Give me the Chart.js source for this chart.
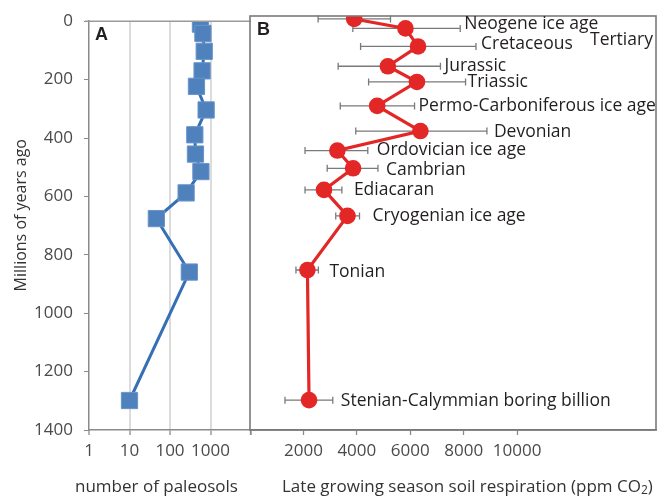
<!DOCTYPE html>
<html lang="en">
<head>
    <meta charset="UTF-8">
    <title>Paleosols and soil respiration</title>
    <script src="https://cdn.jsdelivr.net/npm/chart.js"></script>
    <style>
        body { margin: 0; background: #fff; }
        #wrap { position: relative; width: 666px; height: 502px; }
        canvas { position: absolute; top: 0; }
        #chartA { left: 0; }
        #chartB { left: 240px; }
    </style>
</head>
<body>
    <div id="wrap">
        <canvas id="chartA" width="257" height="502"></canvas>
        <canvas id="chartB" width="426" height="502"></canvas>
    </div>

    <script>
        // ages in millions of years, shared by both panels
        const ages = [10, 42, 103, 170, 223, 304, 389, 455, 515, 588, 676, 859, 1299];

        // panel A: number of paleosols (log axis)
        const paleosols = [565, 650, 700, 620, 450, 780, 410, 425, 580, 250, 46, 300, 10];
        const ticksA = [1, 10, 100, 1000, 10000];

        // panel B: late growing season soil respiration, ppm CO2
        const respiration = [3900, 5820, 6290, 5160, 6250, 4760, 6380, 3270, 3860, 2770, 3650, 2150, 2210];
        const respLow = [2550, 3850, 4140, 3300, 4440, 3380, 3960, 2060, 2890, 2060, 3210, 1720, 1310];
        const respHigh = [5260, 7870, 8460, 7130, 8070, 6160, 8870, 4410, 4790, 3440, 4100, 2560, 3100];
        const ticksB = [0, 2000, 4000, 6000, 8000, 10000];
        const yTicks = [0, 200, 400, 600, 800, 1000, 1200, 1400];

        const periodNames = ['', 'Neogene ice age', 'Cretaceous', 'Jurassic', 'Triassic',
            'Permo-Carboniferous ice age', 'Devonian', 'Ordovician ice age', 'Cambrian',
            'Ediacaran', 'Cryogenian ice age', 'Tonian', 'Stenian-Calymmian boring billion'];

        // label nudges (px) from the end of each error bar
        const labelDx = [0, 4, 5, 4, 2, 4, 7, 9, 8, 12, 13, 11, 8];
        const labelDy = [0, -4, -2, 0, 0, 0, 1, -1, 2, 0, 0, 2, 1];

        const FONT = '"Open Sans", sans-serif';
        const tickFont = { family: FONT, size: 17 };
        const tickColor = '#4a4a4a';
        const axisColor = '#8a8a8a';

        // shared y axis settings
        function yAxis(show) {
            return {
                type: 'linear',
                reverse: true,
                min: 0,
                max: 1400,
                display: show,
                afterBuildTicks: s => { s.ticks = yTicks.map(v => ({ value: v })); },
                afterFit: s => { s.width = show ? 89 : 0; },
                border: { color: axisColor, width: 1.5 },
                grid: { drawOnChartArea: false, tickLength: 5, tickColor: axisColor },
                ticks: { font: tickFont, color: tickColor, padding: 11, callback: v => String(v) },
                title: {
                    display: show,
                    // leading spaces nudge the title up a little, like the original
                    text: '     Millions of years ago',
                    font: { family: FONT, size: 16 },
                    color: '#333',
                    padding: { top: 12, bottom: 0 }
                }
            };
        }

        const panelA = {
            id: 'panelA',
            afterDraw(chart) {
                const { ctx, chartArea: a } = chart;
                ctx.save();
                ctx.strokeStyle = '#9a9a9a';
                ctx.lineWidth = 1.5;
                ctx.beginPath();
                ctx.moveTo(a.left - 4, a.top);
                ctx.lineTo(a.right, a.top);
                ctx.stroke();
                ctx.fillStyle = '#231f20';
                ctx.font = 'bold 18px "Liberation Sans", Arial, sans-serif';
                ctx.textBaseline = 'alphabetic';
                ctx.fillText('A', a.left + 6, a.top + 19);
                ctx.fillStyle = '#333';
                ctx.font = '17px ' + FONT;
                ctx.textBaseline = 'middle';
                ctx.fillText('number of paleosols', 75, 487);
                ctx.restore();
            }
        };

        const panelB = {
            id: 'panelB',
            beforeDatasetsDraw(chart) {
                const { ctx, scales: { x, y } } = chart;
                ctx.save();
                ctx.strokeStyle = '#7a7a7a';
                ctx.lineWidth = 1.3;
                respiration.forEach((v, i) => {
                    const py = y.getPixelForValue(ages[i]);
                    const x0 = x.getPixelForValue(respLow[i]);
                    const x1 = x.getPixelForValue(respHigh[i]);
                    ctx.beginPath();
                    ctx.moveTo(x0, py);
                    ctx.lineTo(x1, py);
                    ctx.moveTo(x0, py - 3.5);
                    ctx.lineTo(x0, py + 3.5);
                    ctx.moveTo(x1, py - 3.5);
                    ctx.lineTo(x1, py + 3.5);
                    ctx.stroke();
                });
                ctx.restore();
            },
            afterDraw(chart) {
                const { ctx, chartArea: a, scales: { x, y } } = chart;
                ctx.save();
                ctx.strokeStyle = '#7a7a7a';
                ctx.lineWidth = 1.6;
                ctx.strokeRect(a.left, a.top, a.right - a.left, a.bottom - a.top);

                ctx.fillStyle = '#231f20';
                ctx.font = 'bold 18px "Liberation Sans", Arial, sans-serif';
                ctx.fillText('B', a.left + 7, a.top + 19);

                ctx.font = '17.5px ' + FONT;
                ctx.textBaseline = 'middle';
                periodNames.forEach((name, i) => {
                    if (!name) return;
                    const px = x.getPixelForValue(respHigh[i]) + labelDx[i];
                    const py = y.getPixelForValue(ages[i]) + labelDy[i];
                    ctx.fillText(name, px, py);
                });
                ctx.fillText('Tertiary', a.left + 340, a.top + 24);

                // axis title with subscript
                ctx.fillStyle = '#333';
                ctx.font = '17px ' + FONT;
                const main = 'Late growing season soil respiration (ppm CO';
                let tx = 42;
                ctx.fillText(main, tx, 487);
                tx += ctx.measureText(main).width;
                ctx.font = '12px ' + FONT;
                ctx.fillText('2', tx, 491);
                tx += ctx.measureText('2').width;
                ctx.font = '17px ' + FONT;
                ctx.fillText(')', tx, 487);
                ctx.restore();
            }
        };

        new Chart(document.getElementById('chartA'), {
            type: 'scatter',
            data: {
                datasets: [{
                    data: ages.map((a, i) => ({ x: paleosols[i], y: a })),
                    showLine: true,
                    borderColor: '#3570b6',
                    borderWidth: 3,
                    pointStyle: 'rect',
                    pointRadius: 11.5,
                    pointBackgroundColor: '#4f81bd',
                    pointBorderColor: '#6a94c8',
                    pointBorderWidth: 1
                }]
            },
            options: {
                responsive: false,
                animation: false,
                layout: { autoPadding: false, padding: { top: 16, left: 0, right: 1, bottom: 0 } },
                plugins: { legend: { display: false }, tooltip: { enabled: false } },
                scales: {
                    x: {
                        type: 'logarithmic',
                        min: 1,
                        max: 10000,
                        afterBuildTicks: s => { s.ticks = ticksA.map(v => ({ value: v })); },
                        afterFit: s => { s.height = 72; },
                        border: { color: axisColor, width: 1.5 },
                        grid: {
                            color: c => (c.tick && c.tick.value > 1 && c.tick.value < 10000) ? '#dcdcdc' : 'rgba(0,0,0,0)',
                            lineWidth: 2,
                            tickLength: 5,
                            tickColor: axisColor,
                            tickWidth: 1.3
                        },
                        ticks: {
                            font: tickFont,
                            color: tickColor,
                            padding: 6,
                            maxRotation: 0,
                            autoSkip: false,
                            callback: v => v === 10000 ? '' : String(v)
                        }
                    },
                    y: yAxis(true)
                }
            },
            plugins: [panelA]
        });

        new Chart(document.getElementById('chartB'), {
            type: 'scatter',
            data: {
                datasets: [{
                    data: ages.map((a, i) => ({ x: respiration[i], y: a })),
                    showLine: true,
                    borderColor: '#e32726',
                    borderWidth: 3.2,
                    pointRadius: 8.3,
                    pointBackgroundColor: '#e32726',
                    pointBorderColor: '#e32726',
                    pointBorderWidth: 0
                }]
            },
            options: {
                responsive: false,
                animation: false,
                layout: { autoPadding: false, padding: { top: 16, left: 10, right: 10, bottom: 0 } },
                plugins: { legend: { display: false }, tooltip: { enabled: false } },
                scales: {
                    x: {
                        type: 'linear',
                        min: 0,
                        max: 15200,
                        afterBuildTicks: s => { s.ticks = ticksB.map(v => ({ value: v })); },
                        afterFit: s => { s.height = 72; },
                        border: { color: '#7a7a7a', width: 1.6 },
                        grid: { drawOnChartArea: false, tickLength: 5, tickColor: axisColor, tickWidth: 1.3 },
                        ticks: {
                            font: tickFont,
                            color: tickColor,
                            padding: 6,
                            maxRotation: 0,
                            autoSkip: false,
                            callback: v => v === 0 ? '' : String(v)
                        }
                    },
                    y: yAxis(false)
                }
            },
            plugins: [panelB]
        });
    </script>
</body>
</html>
